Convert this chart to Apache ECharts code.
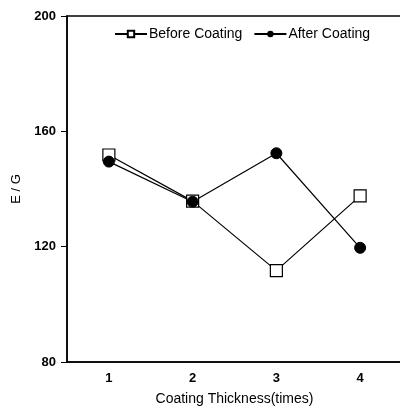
<!DOCTYPE html>
<html>
<head>
<meta charset="utf-8">
<script src="https://cdn.jsdelivr.net/npm/echarts@6/dist/echarts.min.js"></script>
<style>html,body{margin:0;padding:0;background:#fff;}#c{width:400px;height:408px;}</style>
</head>
<body>
<div id="c"></div>
<script>
const categories = ['1', '2', '3', '4'];
const beforeCoating = [151.8, 135.8, 111.7, 137.6];
const afterCoating = [149.5, 135.6, 152.4, 119.6];
const yTicks = [80, 120, 160, 200];

const chart = echarts.init(document.getElementById('c'));
const font = 'Liberation Sans, Arial, sans-serif';
chart.setOption({
  animation: false,
  backgroundColor: '#fff',
  grid: { left: 67, top: 16, bottom: 46, right: -2, outerBoundsMode: 'none', containLabel: false,
    show: true, borderColor: '#000', borderWidth: 1.5, backgroundColor: 'transparent' },
  legend: {
    top: 22, left: 109, itemGap: 11, itemWidth: 32, itemHeight: 8,
    textStyle: { fontFamily: font, fontSize: 14, color: '#000', padding: [0, 0, 0, -3] },
    data: ['Before Coating', 'After Coating']
  },
  xAxis: {
    type: 'category', data: categories, boundaryGap: true,
    name: 'Coating Thickness(times)', nameLocation: 'middle', nameGap: 30,
    nameTextStyle: { fontFamily: font, fontSize: 14, color: '#000' },
    axisLine: { lineStyle: { color: '#000', width: 1.5 } },
    axisTick: { alignWithLabel: true, length: 5, lineStyle: { color: '#000' } },
    axisLabel: { fontFamily: font, fontSize: 13, fontWeight: 'bold', color: '#000', margin: 10 },
    splitLine: { show: false }
  },
  yAxis: {
    type: 'value', min: 80, max: 200, interval: 40,
    name: 'E / G', nameLocation: 'middle', nameGap: 41,
    nameTextStyle: { fontFamily: font, fontSize: 13, color: '#000' },
    axisLine: { show: true, lineStyle: { color: '#000', width: 1.5 } },
    axisTick: { show: true, length: 6, lineStyle: { color: '#000' } },
    axisLabel: { fontFamily: font, fontSize: 13, fontWeight: 'bold', color: '#000', margin: 11,
      formatter: v => yTicks.includes(v) ? String(v) : '' },
    splitLine: { show: false }
  },
  series: [
    {
      name: 'Before Coating', type: 'line', data: beforeCoating,
      symbol: 'rect', symbolSize: 12,
      lineStyle: { color: '#000', width: 1.2 },
      itemStyle: { color: '#fff', borderColor: '#000', borderWidth: 1.2 }
    },
    {
      name: 'After Coating', type: 'line', data: afterCoating,
      symbol: 'circle', symbolSize: 11,
      lineStyle: { color: '#000', width: 1.2 },
      itemStyle: { color: '#000', borderColor: '#000' }
    }
  ]
});
</script>
</body>
</html>
